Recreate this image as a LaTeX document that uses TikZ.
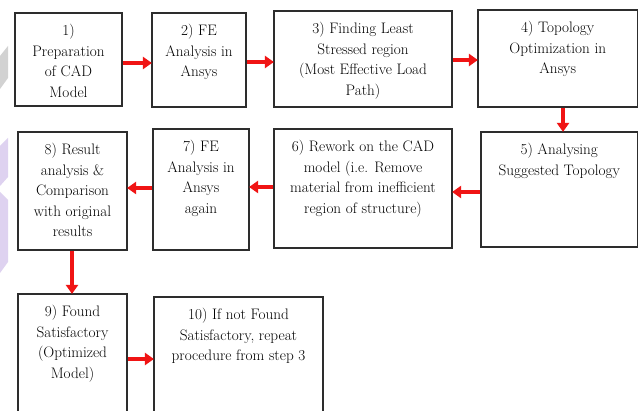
\documentclass[tikz,border=0pt]{standalone}
\usetikzlibrary{arrows.meta}
\definecolor{flowred}{RGB}{240,20,20}
\definecolor{lavender}{RGB}{222,210,240}
\definecolor{edgegrey}{RGB}{45,45,45}
\tikzset{
  stepbox/.style={draw=edgegrey, line width=1.2pt, fill=white, inner sep=0pt},
  steptext/.style={anchor=north, inner sep=0pt, align=center, text=black,
    font=\fontsize{15.2}{20.5}\selectfont},
  flow/.style={draw=flowred, line width=3.5pt,
    -{Triangle[length=9pt,width=12pt]}, shorten >=-0.5pt}
}
% \flowbox{name}{left}{top}{right}{bottom}{text}
\newcommand\flowbox[6]{%
  \pgfmathsetmacro\fbw{#4-#2}%
  \pgfmathsetmacro\fbh{#5-#3}%
  \pgfmathsetmacro\fbx{(#2+#4)/2}%
  \pgfmathsetmacro\fby{(#3+#5)/2}%
  \node[stepbox, minimum width=\fbw pt, minimum height=\fbh pt] (#1) at (\fbx,\fby) {};
  \node[steptext] (#1t) at ([yshift=-12pt]#1.north) {#6};
}
\begin{document}
\begin{tikzpicture}[x=1pt,y=-1pt]
\useasboundingbox (0,0) rectangle (639,411);
\clip (0,0) rectangle (639,411);
\fill[white] (0,0) rectangle (639,411);
% faint side ornaments
\fill[gray!35] (0,56) -- (8,46) -- (8,78) -- (0,89) -- cycle;
\fill[lavender] (0,146) -- (8,138) -- (8,177) -- (0,186) -- cycle;
\fill[lavender] (0,192) -- (8,200) -- (8,262) -- (0,273) -- cycle;

% step boxes
\flowbox{b1}{15}{13}{122}{106}{1)\\Preparation\\of CAD\\Model}
\flowbox{b2}{152}{13}{246}{107}{2) FE\\Analysis in\\Ansys}
\flowbox{b3}{274}{11}{452}{107}{3) Finding Least\\Stressed region\\(Most Effective Load\\Path)}
\flowbox{b4}{478}{10}{637.5}{107}{4) Topology\\Optimization in\\Ansys}
\flowbox{b5}{481}{132}{637.5}{247}{5) Analysing\\Suggested Topology}
\flowbox{b6}{274}{129}{452}{248}{6) Rework on the CAD\\model (i.e. Remove\\material from inefficient\\region of structure)}
\flowbox{b7}{153}{129}{249}{250}{7) FE\\Analysis in\\Ansys\\again}
\flowbox{b8}{18}{132}{127}{250}{8) Result\\analysis \&\\Comparison\\with original\\results}
\flowbox{b9}{18}{294}{127}{430}{9) Found\\Satisfactory\\(Optimized\\Model)}
\flowbox{b10}{154}{297}{323}{430}{10) If not Found\\Satisfactory, repeat\\procedure from step 3}

% connectors
\draw[flow] (b1.east |- 0,63) -- (b2.west |- 0,63);
\draw[flow] (b2.east |- 0,62) -- (b3.west |- 0,62);
\draw[flow] (b3.east |- 0,60) -- (b4.west |- 0,60);
\draw[flow] (b4.south -| 563,0) -- (b5.north -| 563,0);
\draw[flow] (b5.west |- 0,192) -- (b6.east |- 0,192);
\draw[flow] (b6.west |- 0,187) -- (b7.east |- 0,187);
\draw[flow] (b7.west |- 0,188) -- (b8.east |- 0,188);
\draw[flow] (b8.south -| 72,0) -- (b9.north -| 72,0);
\draw[flow] (b9.east |- 0,359) -- (b10.west |- 0,359);
\end{tikzpicture}
\end{document}
